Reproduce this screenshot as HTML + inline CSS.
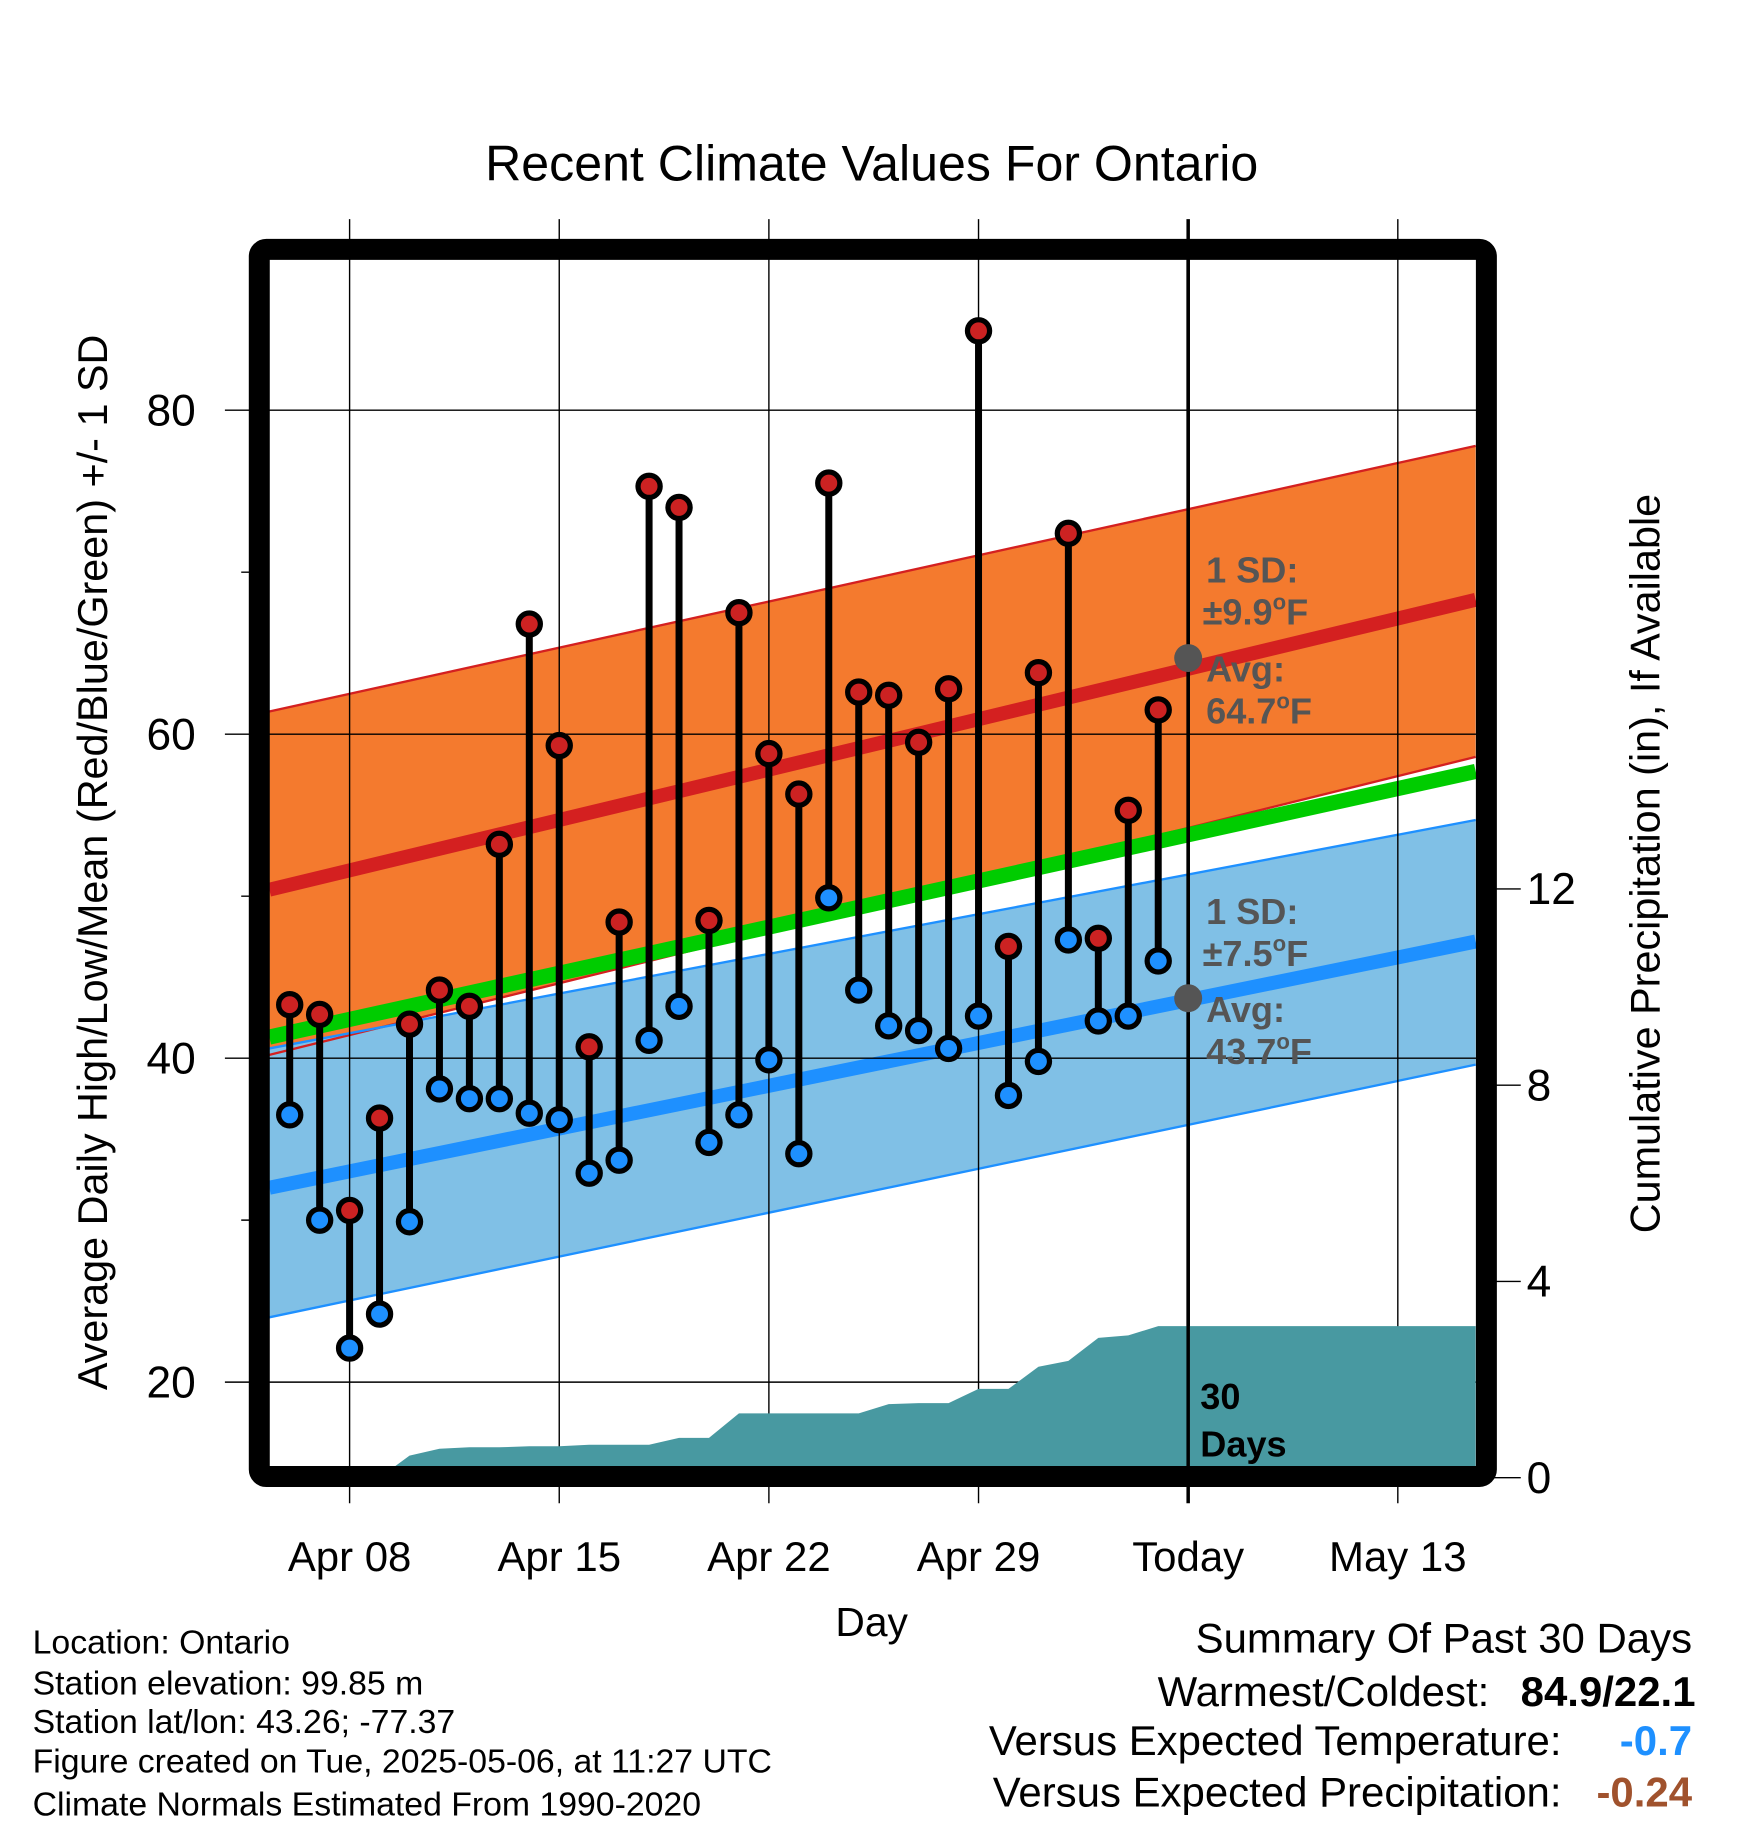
<!DOCTYPE html>
<html><head><meta charset="utf-8"><style>
html,body{margin:0;padding:0;background:#fff}
svg{display:block}
text{font-family:"Liberation Sans",sans-serif}
</style></head><body>
<svg id="chart" width="1748" height="1828" viewBox="0 0 1500 1568.6" xmlns="http://www.w3.org/2000/svg">
<defs><clipPath id="pc"><rect x="231" y="223" width="1036" height="1036"/></clipPath></defs>
<rect width="1500" height="1568.6" fill="#fff"/>
<text x="748" y="155" font-size="43" text-anchor="middle">Recent Climate Values For Ontario</text>
<g id="plot" clip-path="url(#pc)"></g>
<g id="grid"></g>
<g id="over"></g>
<rect x="222.5" y="214" width="1053" height="1053" rx="6" fill="none" stroke="#000" stroke-width="18"/>
<g id="axes"></g>
<text transform="translate(92,740) rotate(-90)" font-size="35.5" text-anchor="middle">Average Daily High/Low/Mean (Red/Blue/Green) +/- 1 SD</text>
<text transform="translate(1424,741) rotate(-90)" font-size="35.5" text-anchor="middle">Cumulative Precipitation (in), If Available</text>
<text x="748" y="1404" font-size="35" text-anchor="middle">Day</text>
<g font-size="29">
<text x="28" y="1419">Location: Ontario</text>
<text x="28" y="1454">Station elevation: 99.85 m</text>
<text x="28" y="1487">Station lat/lon: 43.26; -77.37</text>
<text x="28" y="1521">Figure created on Tue, 2025-05-06, at 11:27 UTC</text>
<text x="28" y="1558">Climate Normals Estimated From 1990-2020</text>
</g>
<g font-size="36">
<text x="1452" y="1418" text-anchor="end">Summary Of Past 30 Days</text>
<text x="1278" y="1464" text-anchor="end">Warmest/Coldest:</text>
<text x="1455" y="1464" text-anchor="end" font-weight="bold">84.9/22.1</text>
<text x="1340" y="1506" text-anchor="end">Versus Expected Temperature:</text>
<text x="1452" y="1506" text-anchor="end" font-weight="bold" fill="#1e90ff">-0.7</text>
<text x="1340" y="1550" text-anchor="end">Versus Expected Precipitation:</text>
<text x="1452" y="1550" text-anchor="end" font-weight="bold" fill="#a0522d">-0.24</text>
</g>
<script>
// day index: Apr 08 = 0
const highs=[43.3,42.7,30.6,36.3,42.1,44.2,43.2,53.2,66.8,59.3,40.7,48.4,75.3,74.0,48.5,67.5,58.8,56.3,75.5,62.6,62.4,59.5,62.8,84.9,46.9,63.8,72.4,47.4,55.3,61.5];
const lows=[36.5,30.0,22.1,24.2,29.9,38.1,37.5,37.5,36.6,36.2,32.9,33.7,41.1,43.2,34.8,36.5,39.9,34.1,49.9,44.2,42.0,41.7,40.6,42.6,37.7,39.8,47.3,42.3,42.6,46.0];
const precip=[0,0,0,0,0.45,0.59,0.62,0.62,0.64,0.64,0.67,0.67,0.67,0.81,0.81,1.31,1.31,1.31,1.31,1.31,1.5,1.52,1.52,1.81,1.81,2.26,2.38,2.85,2.9,3.09];
const normDays=[-2.68,37.6];
const hiUpper=[61.4,77.8];
const hiMean=[50.4,68.3];
const hiLower=[40.2,58.6];
const meanLine=[41.3,57.7];
const loUpper=[40.6,54.7];
const loMean=[32.0,47.2];
const loLower=[24.0,39.6];
const xTicks=[0,7,14,21,28,35];
const xTickLabels=["Apr 08","Apr 15","Apr 22","Apr 29","Today","May 13"];
const yTicks=[20,40,60,80];
const yMinor=[30,50,70];
const pTicks=[0,4,8,12];
const firstDay=-2;

const NS="http://www.w3.org/2000/svg";
const X=d=>300+d*25.7;
const Y=v=>352+(80-v)*13.9;
const P=p=>1268-p*42.1;
function mk(parent,tag,attrs){const e=document.createElementNS(NS,tag);for(const k in attrs)e.setAttribute(k,attrs[k]);parent.appendChild(e);return e;}
const plot=document.getElementById('plot'),grid=document.getElementById('grid'),over=document.getElementById('over'),axes=document.getElementById('axes');
const xl=X(normDays[0]),xr=X(normDays[1]);
function band(up,lo,fill,name){const e=mk(plot,'polygon',{points:`${xl},${Y(up[0])} ${xr},${Y(up[1])} ${xr},${Y(lo[1])} ${xl},${Y(lo[0])}`,fill:fill});

}
function line(arr,col,w,name){const e=mk(plot,'line',{x1:xl,y1:Y(arr[0]),x2:xr,y2:Y(arr[1]),stroke:col,'stroke-width':w});

}
band(hiUpper,hiLower,'#f47a2e','high-sd-band');
band(loUpper,loLower,'#80c0e6','low-sd-band');
line(hiUpper,'#d42020',2,'high-upper-edge');
line(hiLower,'#d42020',2,'high-lower-edge');
line(loUpper,'#1e90ff',2,'low-upper-edge');
line(loLower,'#1e90ff',2,'low-lower-edge');
line(meanLine,'#00cc00',13,'mean-normal-line');
line(hiMean,'#d42020',12,'high-normal-line');
line(loMean,'#1e90ff',12,'low-normal-line');
xTicks.forEach((d,i)=>{const g=mk(grid,'line',{x1:X(d),x2:X(d),y1:188,y2:1290,stroke:'#000','stroke-width':i==4?3:1.2});


const t=mk(axes,'text',{x:X(d),y:1348,'font-size':36,'text-anchor':'middle'});t.textContent=xTickLabels[i];

});
yTicks.forEach(v=>{const g=mk(grid,'line',{x1:193,x2:1267,y1:Y(v),y2:Y(v),stroke:'#000','stroke-width':1.2});


const t=mk(axes,'text',{x:168,y:Y(v)+13,'font-size':38,'text-anchor':'end'});t.textContent=v;

});
yMinor.forEach(v=>{const g=mk(grid,'line',{x1:207,x2:222,y1:Y(v),y2:Y(v),stroke:'#000','stroke-width':1.2});

});
pTicks.forEach(p=>{const g=mk(axes,'line',{x1:1275,x2:1305,y1:P(p),y2:P(p),stroke:'#000','stroke-width':1.2});


const t=mk(axes,'text',{x:1310,y:P(p)+13,'font-size':38});t.textContent=p;

});
let pts=`${X(firstDay)},${P(0)+20} `;
precip.forEach((p,i)=>{pts+=`${X(firstDay+i)},${P(p)} `;});
pts+=`${xr},${P(precip[precip.length-1])} ${xr},${P(0)+20}`;
const area=mk(over,'polygon',{points:pts,fill:'#4899a1','clip-path':'url(#pc)'});


const tl=mk(over,'line',{x1:X(28),x2:X(28),y1:223,y2:1259,stroke:'#000','stroke-width':3});


highs.forEach((h,i)=>{const d=firstDay+i,lo=lows[i];
const s=mk(over,'line',{x1:X(d),x2:X(d),y1:Y(h),y2:Y(lo),stroke:'#000','stroke-width':6});


const a=mk(over,'circle',{cx:X(d),cy:Y(h),r:9.5,fill:'#cc2222',stroke:'#000','stroke-width':4.5});


const b=mk(over,'circle',{cx:X(d),cy:Y(lo),r:9.5,fill:'#1e90ff',stroke:'#000','stroke-width':4.5});

});
const todayHi=64.7,todayLo=43.7;
[todayHi,todayLo].forEach(v=>{const c=mk(over,'circle',{cx:X(28),cy:Y(v),r:12,fill:'#555'});

});
function lbl(txt,x,y,name,col,deg){const t=mk(over,'text',{x:x,y:y,'font-size':31,'font-weight':'bold',fill:col});
t.appendChild(document.createTextNode(txt));
if(deg){const s1=mk(t,'tspan',{'font-size':19,dy:-13});s1.textContent='o';const s2=mk(t,'tspan',{dy:13});s2.textContent='F';}

}
lbl('1 SD:',1035,500,'high-sd-label','#555',false);
lbl('±9.9',1032,536,'high-sd-value','#555',true);
lbl('Avg:',1035,585,'high-avg-label','#555',false);
lbl('64.7',1035,621,'high-avg-value','#555',true);
lbl('1 SD:',1035,793,'low-sd-label','#555',false);
lbl('±7.5',1032,829,'low-sd-value','#555',true);
lbl('Avg:',1035,877,'low-avg-label','#555',false);
lbl('43.7',1035,913,'low-avg-value','#555',true);
lbl('30',1030,1209,'days-count-label','#000',false);
lbl('Days',1030,1250,'days-label','#000',false);
</script>
</svg>
</body></html>
